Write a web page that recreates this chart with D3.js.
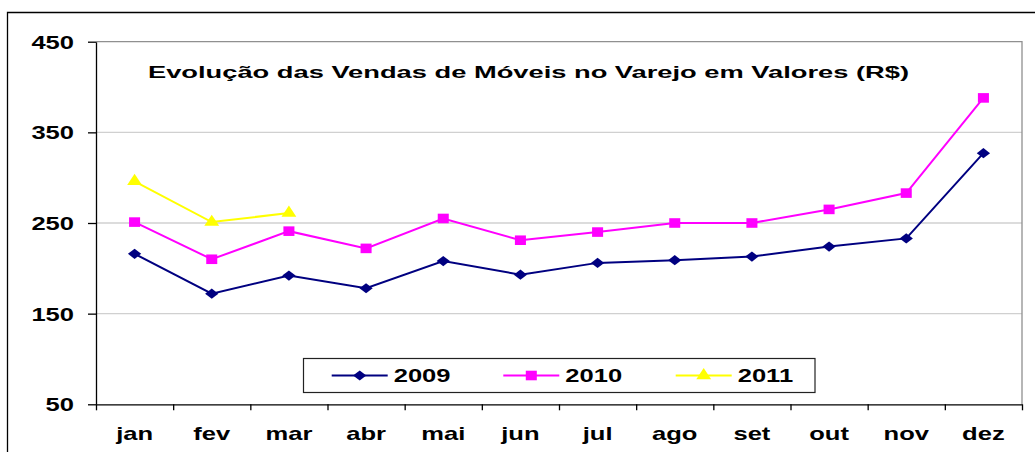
<!DOCTYPE html>
<html>
<head>
<meta charset="utf-8">
<script src="https://cdn.jsdelivr.net/npm/d3@7"></script>
<style>
  body { margin: 0; background: #fff; }
  text { font-family: "Liberation Sans", Arial, sans-serif; font-weight: bold; }
</style>
</head>
<body>
<svg id="chart_svg" width="1035" height="452"></svg>
<script>
var months = ["jan", "fev", "mar", "abr", "mai", "jun", "jul", "ago", "set", "out", "nov", "dez"];
var vendas2009 = [216, 172, 192, 178, 208, 193, 206, 209, 213, 224, 233, 327];
var vendas2010 = [251, 210, 241, 222, 255, 231, 240, 250, 250, 265, 283, 388];
var vendas2011 = [296, 251, 261];
var yTicks = [50, 150, 250, 350, 450];
var seriesNames = ["2009", "2010", "2011"];
var titleText = "Evolução das Vendas de Móveis no Varejo em Valores (R$)";

// text in the picture is stretched sideways, so glyphs get scaled in x
var sx = 1.42;

var series = [
    { name: seriesNames[0], values: vendas2009, color: "#000080", shape: "diamond" },
    { name: seriesNames[1], values: vendas2010, color: "#FF00FF", shape: "square" },
    { name: seriesNames[2], values: vendas2011, color: "#FFFF00", shape: "triangle" }
];

var plot = { left: 96, right: 1022, top: 41.7, bottom: 404.3 };

var svg = d3.select("#chart_svg");

// outer frame (runs off the right and bottom edge)
svg.append("path")
    .attr("d", "M7.5,460 V12.5 H1040")
    .style("fill", "none")
    .style("stroke", "#000")
    .style("stroke-width", 1.3);

var x = d3.scaleBand().domain(months).range([plot.left, plot.right]).padding(0);
var xEdge = d3.scaleLinear().domain([0, 12]).range([plot.left, plot.right]);
var y = d3.scaleLinear().domain([50, 450]).range([plot.bottom, plot.top]);

// gridlines
svg.append("g")
    .selectAll("line")
    .data(yTicks.filter(d => d > 50 && d < 450))
    .enter().append("line")
    .attr("x1", plot.left).attr("x2", plot.right)
    .attr("y1", d => y(d)).attr("y2", d => y(d))
    .style("stroke", "#d0d0d0")
    .style("stroke-width", 1.3);

// top and right border of plot area
svg.append("path")
    .attr("d", `M${plot.left},${y(450)} H${plot.right} V${plot.bottom}`)
    .style("fill", "none")
    .style("stroke", "#909090")
    .style("stroke-width", 1.3);

// y axis
var yAxis = svg.append("g")
    .attr("transform", `translate(${plot.left},0)`)
    .call(d3.axisLeft(y).tickValues(yTicks).tickSize(8).tickPadding(0).tickSizeOuter(0));
yAxis.select(".domain").style("stroke", "#000").style("stroke-width", 1.3);
yAxis.selectAll(".tick line").style("stroke", "#000").style("stroke-width", 1.3);
yAxis.selectAll(".tick text")
    .attr("x", -22 / sx)
    .attr("dy", "0.36em")
    .attr("transform", `scale(${sx},1)`)
    .style("font-size", "18px")
    .style("fill", "#000");

// x axis: ticks at category edges
var xTickAxis = svg.append("g")
    .attr("transform", `translate(0,${plot.bottom})`)
    .call(d3.axisBottom(xEdge).tickValues(d3.range(13)).tickSize(6).tickFormat("").tickSizeOuter(0));
xTickAxis.select(".domain").style("stroke", "#000").style("stroke-width", 1.3);
xTickAxis.selectAll(".tick line").style("stroke", "#000").style("stroke-width", 1.3);

// x labels at category centres
var xLabelAxis = svg.append("g")
    .attr("transform", `translate(0,${plot.bottom})`)
    .call(d3.axisBottom(x).tickSize(0).tickPadding(0));
xLabelAxis.select(".domain").remove();
xLabelAxis.selectAll(".tick text")
    .attr("y", 36)
    .attr("dy", 0)
    .attr("transform", `scale(${sx},1)`)
    .style("font-size", "18px")
    .style("fill", "#000");

// title
svg.append("text")
    .attr("x", 148)
    .attr("y", 78)
    .attr("textLength", 761)
    .attr("lengthAdjust", "spacingAndGlyphs")
    .style("font-size", "16.5px")
    .style("fill", "#000")
    .text(titleText);

function markerPath(shape) {
    if (shape == "diamond") return d3.symbol().type(d3.symbolSquare).size(52)();
    if (shape == "square") return d3.symbol().type(d3.symbolSquare).size(92)();
    return d3.symbol().type(d3.symbolTriangle).size(72)();
}
function markerTransform(shape, px, py) {
    if (shape == "diamond") return `translate(${px},${py}) scale(1.3,1) rotate(45)`;
    return `translate(${px},${py}) scale(1.15,1)`;
}

var line = d3.line()
    .x((d, i) => x(months[i]) + x.bandwidth() / 2)
    .y(d => y(d));

for (let s of series) {
    svg.append("path")
        .datum(s.values)
        .attr("d", line)
        .style("fill", "none")
        .style("stroke", s.color)
        .style("stroke-width", 2);

    svg.append("g")
        .selectAll("path")
        .data(s.values)
        .enter().append("path")
        .attr("d", markerPath(s.shape))
        .attr("transform", (d, i) => markerTransform(s.shape, x(months[i]) + x.bandwidth() / 2, y(d)))
        .style("fill", s.color);
}

// legend
var legend = { x: 303.5, y: 358.5, w: 511.5, h: 34 };
svg.append("rect")
    .attr("x", legend.x).attr("y", legend.y)
    .attr("width", legend.w).attr("height", legend.h)
    .style("fill", "#fff")
    .style("stroke", "#222")
    .style("stroke-width", 1.2);

var legendX = d3.scaleOrdinal().domain(seriesNames).range([331.7, 503.3, 675.7]);
var legendItems = svg.append("g")
    .selectAll("g")
    .data(series)
    .enter().append("g")
    .attr("transform", d => `translate(${legendX(d.name)},${legend.y + 17})`);

legendItems.append("line")
    .attr("x1", 0).attr("x2", 56)
    .style("stroke", d => d.color)
    .style("stroke-width", 2);
legendItems.append("path")
    .attr("d", d => markerPath(d.shape))
    .attr("transform", d => markerTransform(d.shape, 28, 0))
    .style("fill", d => d.color);
legendItems.append("text")
    .attr("x", 62 / sx)
    .attr("y", 6.5)
    .attr("transform", `scale(${sx},1)`)
    .style("font-size", "18px")
    .style("fill", "#000")
    .text(d => d.name);
</script>
</body>
</html>
